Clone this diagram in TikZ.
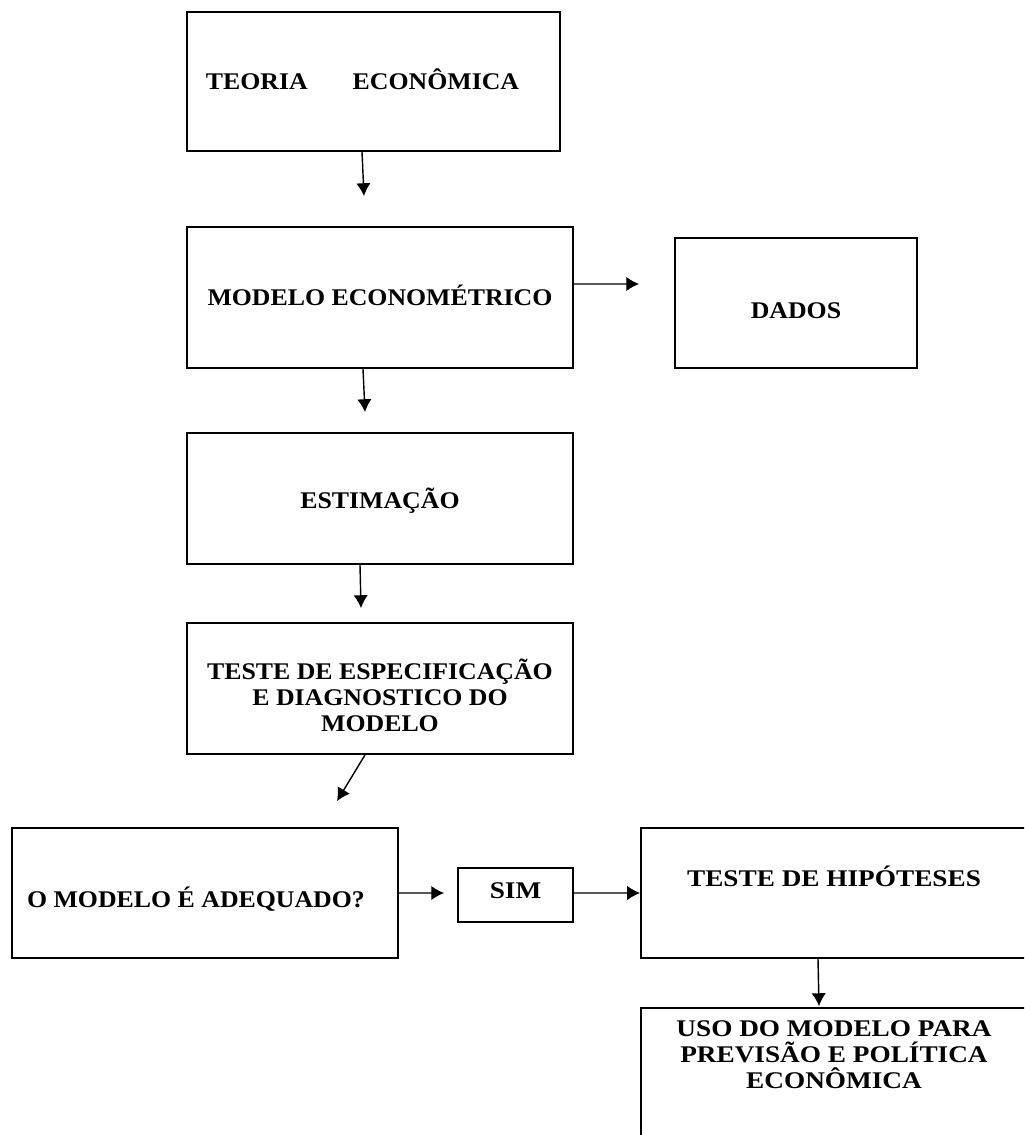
\documentclass[tikz,border=0pt]{standalone}
\usepackage{fontspec}
\newfontfamily\flowfont[FakeStretch = 1.08]{Liberation Serif}
\newfontfamily\flowwide[FakeStretch = 1.14]{Liberation Serif}
\usetikzlibrary{arrows.meta}

\begin{document}
\begin{tikzpicture}[x = 0.025cm, y = -0.025cm, > = {Latex[length = 3.2mm, width = 3.6mm]},
	caixa/.style = {draw, line width = 1.3pt, inner sep = 0pt, align = center,
		text height = 0.4cm, text depth = 0cm,
		font = \flowfont\bfseries\fontsize{17}{18.4}\selectfont},
	caixalarga/.style = {caixa, font = \flowwide\bfseries\fontsize{17}{18.4}\selectfont},
	seta/.style = {->, line width = 1pt}]

	\useasboundingbox (0, 0) rectangle (1024, 1135);
	\clip (0, 0) rectangle (1024, 1135);

	% Caixas da coluna principal

	\node [caixa, minimum width = 9.325cm, minimum height = 3.475cm] (teoria) at (373.5, 81.5)
		{TEORIA\hspace{1.125cm}ECONÔMICA\hspace{0.55cm}};
	\node [caixa, minimum width = 9.65cm, minimum height = 3.525cm] (modelo) at (380, 297.5)
		{MODELO ECONOMÉTRICO};
	\node [caixa, minimum width = 6.05cm, minimum height = 3.25cm, text height = 0.75cm] (dados) at (796, 303)
		{DADOS};
	\node [caixa, minimum width = 9.65cm, minimum height = 3.275cm, text height = 0.5cm] (estimacao) at (380, 498.5)
		{ESTIMAÇÃO};
	\node [caixa, minimum width = 9.65cm, minimum height = 3.275cm, text height = 2.125cm] (teste) at (380, 688.5)
		{TESTE DE ESPECIFICAÇÃO\\E DIAGNOSTICO DO\\MODELO};

	% Linha de baixo

	\node [caixa, minimum width = 9.65cm, minimum height = 3.25cm, text height = 0.7cm] (adequado) at (205, 893)
		{O MODELO É ADEQUADO?\hspace{0.45cm}};
	\node [caixalarga, minimum width = 2.875cm, minimum height = 1.35cm, text depth = 0.25cm] (sim) at (515.5, 895)
		{SIM};
	\node [caixalarga, minimum width = 9.65cm, minimum height = 3.25cm, text depth = 0.75cm] (hipoteses) at (834, 893)
		{TESTE DE HIPÓTESES};
	\node [caixalarga, minimum width = 9.65cm, minimum height = 3.8cm, text height = 1cm, text depth = 0.8cm] (uso) at (834, 1084)
		{USO DO MODELO PARA\\PREVISÃO E POLÍTICA\\ECONÔMICA};

	% Setas

	\draw [seta] ([xshift = -0.2875cm] teoria.south) -- ([xshift = -0.4cm, yshift = 0.75cm] modelo.north);
	\draw [seta] ([yshift = 0.3375cm] modelo.east) -- ([xshift = -0.875cm, yshift = 0.475cm] dados.west);
	\draw [seta] ([xshift = -0.425cm] modelo.south) -- ([xshift = -0.375cm, yshift = 0.5cm] estimacao.north);
	\draw [seta] ([xshift = -0.5cm] estimacao.south) -- ([xshift = -0.475cm, yshift = 0.35cm] teste.north);
	\draw [seta] ([xshift = -0.375cm] teste.south) -- ([xshift = 3.3cm, yshift = 0.65cm] adequado.north);
	\draw [seta] (adequado.east) -- ([xshift = -0.325cm, yshift = 0.05cm] sim.west);
	\draw [seta] ([yshift = 0.05cm] sim.east) -- (hipoteses.west);
	\draw [seta] ([xshift = -0.4cm] hipoteses.south) -- ([xshift = -0.375cm, yshift = 0.025cm] uso.north);

\end{tikzpicture}
\end{document}
